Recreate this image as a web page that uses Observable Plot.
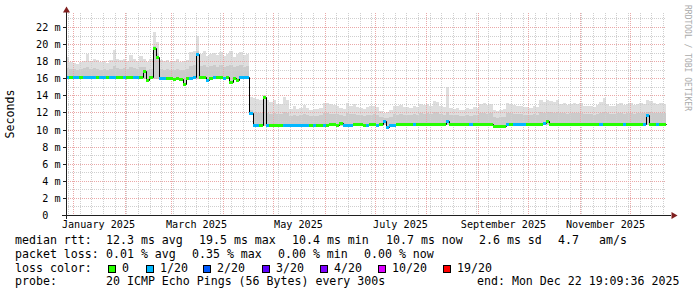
<!DOCTYPE html>
<html><head><meta charset="utf-8">
<script src="https://cdn.jsdelivr.net/npm/d3@7"></script>
<script src="https://cdn.jsdelivr.net/npm/@observablehq/plot@0.6"></script>
<style>
html,body{margin:0;padding:0;background:#fff;}
#wrap{position:relative;width:697px;height:297px;overflow:hidden;background:#fff;font-family:"DejaVu Sans Mono",monospace;color:#000;}
#chart{position:absolute;left:0;top:0;}
.t{position:absolute;white-space:pre;line-height:1;font-size:11.6px;}
.box{position:absolute;width:6px;height:6px;border:1px solid #000;}
#ylab{position:absolute;left:11px;top:114px;font-size:11.6px;transform:translate(-50%,-50%) rotate(-90deg);white-space:pre;line-height:1;}
#wm{position:absolute;left:687px;top:5px;font-size:8px;color:#aaa;white-space:pre;line-height:1;transform-origin:0 0;transform:rotate(90deg) translate(0,-50%);}
</style></head>
<body><div id="wrap"><div id="chart"></div></div>
<script>
// ---- data (2-day buckets, 360 days ending Mon Dec 22 19:09:36 2025) ----
const endTime = "2025-12-22T19:09:36Z";
const rangeDays = 360;
const bucketDays = 2;
const yTicks = [0,2,4,6,8,10,12,14,16,18,20,22];
const monthLabels = ["2025-01-01","2025-03-01","2025-05-01","2025-07-01","2025-09-01","2025-11-01"];
const lossSteps = [0,1,2,3,4,10,19];
const lossNames = ["0","1/20","2/20","3/20","4/20","10/20","19/20"];
const lossColors = ["#26ff00","#00b8ff","#0059ff","#5e00ff","#7e00ff","#dd00ff","#ff0000"];

// median rtt (ms)
const median = [
16.15,16.1,16.15,16.15,16.1,16.15,16.15,16.1,16.15,16.1,
16.15,16.15,16.1,16.15,16.2,16.1,16.1,16.15,16.1,16.1,
16.15,16.15,16.1,16.9,15.85,16.1,19.5,18.5,16.05,16.05,
16.0,16.0,15.95,16.0,15.95,15.35,16.0,16.05,16.1,18.9,
16.15,16.1,15.85,16.05,16.1,16.1,16.1,16.05,16.1,15.55,
16.05,15.85,16.1,16.1,16.15,11.95,10.5,10.5,10.5,13.85,
10.5,10.5,10.55,10.5,10.5,10.55,10.5,10.5,10.5,10.55,
10.5,10.5,10.55,10.55,10.5,10.55,10.55,10.5,10.55,10.6,
10.6,10.55,10.75,10.55,10.5,10.55,10.6,10.6,10.6,10.55,
10.55,10.6,10.6,10.55,10.6,10.95,10.35,10.5,10.55,10.6,
10.65,10.6,10.65,10.65,10.7,10.65,10.6,10.65,10.65,10.7,
10.65,10.65,10.6,10.65,11.05,10.65,10.65,10.7,10.65,10.65,
10.6,10.65,10.65,10.7,10.65,10.65,10.65,10.65,10.4,10.4,
10.4,10.4,10.65,10.7,10.65,10.65,10.7,10.65,10.65,10.7,
10.65,10.65,10.65,10.75,11.0,10.7,10.65,10.7,10.7,10.65,
10.7,10.7,10.65,10.7,10.7,10.65,10.7,10.7,10.7,10.65,
10.7,10.7,10.65,10.7,10.7,10.7,10.65,10.7,10.7,10.7,
10.65,10.7,10.7,10.7,11.7,10.7,10.65,10.7,10.7,10.7
];
// lost pings per 20
const loss = [
1,0,1,1,0,1,1,1,1,0,
1,1,0,1,1,0,0,1,0,0,
1,1,0,0,0,0,0,0,1,1,
0,0,0,0,0,0,0,1,1,1,
0,0,1,0,1,0,0,1,0,0,
0,0,1,1,1,1,1,1,0,0,
1,0,0,0,0,1,1,1,1,1,
1,1,1,0,1,0,0,1,0,0,
0,0,0,1,1,1,0,0,0,0,
1,0,0,1,0,1,1,1,1,0,
0,0,0,0,1,0,0,0,0,0,
0,0,0,0,1,0,0,0,0,0,
0,1,0,0,0,0,0,0,0,0,
0,0,1,0,1,1,1,1,0,0,
0,0,0,1,0,0,0,0,0,0,
0,0,0,0,0,0,0,0,0,0,
1,0,0,0,0,0,0,1,0,0,
0,0,0,1,1,0,0,1,0,0
];
// highest ping (top of smoke)
const smokeMax = [
18.5,17.9,17.8,17.7,17.9,18.0,18.9,18.0,18.3,18.1,
17.9,18.0,17.8,18.1,19.3,18.2,18.1,18.3,18.0,18.7,
18.2,18.0,18.6,18.3,17.9,18.2,21.4,20.2,18.1,18.0,
18.1,17.9,18.0,18.2,17.9,18.0,18.1,19.1,19.2,21.0,
18.9,19.2,18.6,18.8,19.0,18.7,19.1,18.6,18.8,19.2,
18.5,18.9,19.1,18.7,18.9,13.8,13.7,13.6,13.5,14.0,
13.5,13.2,13.4,13.0,13.0,13.8,13.4,12.4,12.7,12.4,
12.5,12.9,12.5,12.3,12.4,12.4,12.5,13.1,13.1,13.0,
12.9,12.8,12.5,12.4,13.1,12.8,13.0,12.6,12.5,12.4,
12.6,12.7,12.8,12.6,12.2,11.9,12.0,12.3,12.8,12.7,
12.9,12.6,12.6,12.5,12.7,12.6,13.0,12.9,13.0,12.8,
13.3,13.2,12.7,12.6,15.0,12.5,12.4,12.5,12.3,12.3,
12.5,12.4,12.6,12.5,13.0,13.1,12.9,13.0,12.3,12.2,
12.3,12.4,13.1,13.0,12.9,12.7,12.8,12.6,12.6,12.5,
12.7,12.6,13.4,13.2,13.5,13.3,13.2,13.4,13.0,13.1,
12.9,13.0,13.1,13.0,13.1,12.8,12.7,12.8,12.6,12.9,
13.2,13.7,13.0,12.7,12.7,13.0,13.1,12.9,13.0,13.1,
12.9,13.0,13.1,13.0,13.5,13.3,13.1,13.0,13.1,13.0
];
// upper edge of the dense part of the smoke
const smokeMid = [
17.2,17.1,17.1,17.0,17.1,17.2,17.3,17.1,17.2,17.1,
17.0,17.1,17.0,17.1,17.4,17.2,17.1,17.2,17.1,17.3,
17.2,17.1,17.3,17.3,17.0,17.1,19.8,19.0,17.1,17.0,
17.1,17.0,17.0,17.1,17.0,17.0,17.1,17.4,17.5,19.2,
17.4,17.5,17.3,17.4,17.5,17.3,17.5,17.3,17.4,17.5,
17.3,17.4,17.5,17.3,17.4,12.3,12.0,11.9,11.9,13.9,
11.9,11.8,11.9,11.8,11.8,12.0,11.9,11.6,11.7,11.6,
11.7,11.8,11.7,11.6,11.6,11.6,11.7,11.9,11.9,11.8,
11.8,11.8,11.7,11.6,11.9,11.8,11.8,11.7,11.7,11.6,
11.7,11.7,11.8,11.7,11.5,11.3,11.3,11.5,11.8,11.7,
11.8,11.7,11.7,11.7,11.8,11.7,11.9,11.8,11.9,11.8,
12.0,12.0,11.8,11.7,12.1,11.7,11.7,11.7,11.6,11.6,
11.7,11.6,11.7,11.7,11.9,11.9,11.8,11.9,11.5,11.4,
11.5,11.5,11.9,11.9,11.8,11.8,11.8,11.7,11.7,11.7,
11.8,11.7,12.0,11.9,12.0,12.0,11.9,12.0,11.9,11.9,
11.8,11.9,11.9,11.9,11.9,11.8,11.8,11.8,11.7,11.8,
11.9,12.1,11.9,11.8,11.8,11.9,11.9,11.8,11.9,11.9,
11.8,11.9,11.9,11.9,12.0,12.0,11.9,11.9,11.9,11.9
];
// lowest ping (bottom of smoke)
const smokeMin = [
15.95,15.95,15.95,15.95,15.95,15.95,15.95,15.95,15.95,15.95,
15.95,15.95,15.95,15.95,15.95,15.95,15.95,15.95,15.95,15.95,
15.95,15.95,15.95,15.9,15.7,15.95,15.95,15.95,15.9,15.9,
15.85,15.85,15.8,15.85,15.8,15.2,15.85,15.9,15.95,15.95,
15.95,15.95,15.7,15.9,15.95,15.95,15.95,15.9,15.95,15.4,
15.9,15.7,15.95,15.95,15.95,11.7,10.35,10.35,10.35,10.4,
10.35,10.35,10.4,10.35,10.35,10.4,10.35,10.35,10.35,10.4,
10.35,10.35,10.4,10.4,10.35,10.4,10.4,10.35,10.4,10.45,
10.45,10.4,10.45,10.4,10.35,10.4,10.45,10.45,10.45,10.4,
10.4,10.45,10.45,10.4,10.45,10.5,10.2,10.35,10.4,10.45,
10.5,10.45,10.5,10.5,10.55,10.5,10.45,10.5,10.5,10.55,
10.5,10.5,10.45,10.5,10.55,10.5,10.5,10.55,10.5,10.5,
10.45,10.5,10.5,10.55,10.5,10.5,10.5,10.5,10.25,10.25,
10.25,10.25,10.5,10.55,10.5,10.5,10.55,10.5,10.5,10.55,
10.5,10.5,10.5,10.55,10.55,10.55,10.5,10.55,10.55,10.5,
10.55,10.55,10.5,10.55,10.55,10.5,10.55,10.55,10.55,10.5,
10.55,10.55,10.5,10.55,10.55,10.55,10.5,10.55,10.55,10.55,
10.5,10.55,10.55,10.55,10.55,10.55,10.5,10.55,10.55,10.55
];

// legend text (text, left x)
const statLines = [
  [["median rtt:",16],["12.3 ms avg",107],["19.5 ms max",200],["10.4 ms min",293],["10.7 ms now",387],["2.6 ms sd",480],["4.7",559],["am/s",600]],
  [["packet loss:",16],["0.01 % avg",107],["0.35 % max",193],["0.00 % min",279],["0.00 % now",365]],
  [["loss color:",16]],
  [["probe:",16],["20 ICMP Echo Pings (56 Bytes) every 300s",107],["end: Mon Dec 22 19:09:36 2025",478]]
];
const lossBoxX = [108,146,203,262,320,378,443];
const yAxisTitle = "Seconds";
const watermark = "RRDTOOL / TOBI OETIKER";

// ---- build ----
const end = new Date(endTime);
const start = d3.utcDay.offset(end, -rangeDays);
const rows = median.map((m, i) => ({
  t: d3.utcDay.offset(start, i * bucketDays),
  t1: d3.utcDay.offset(start, (i + 1) * bucketDays),
  med: m, loss: loss[i], max: smokeMax[i], mid: smokeMid[i], min: smokeMin[i]
}));
const rowsExt = rows.concat([{...rows[rows.length - 1], t: end}]);
const weeks = d3.utcSunday.range(start, end);
const months = d3.utcMonth.range(start, end);
const labelDates = monthLabels.map(s => d3.utcDay.offset(new Date(s + "T00:00:00Z"), 15));
const fmtMonth = d3.utcFormat("%B %Y");
const yMax = 23.64;
const minorY = d3.range(1, 24).filter(v => v % 2 === 1);
const majorY = yTicks.filter(v => v > 0);

const gridMinor = "#cfcfcf";
const gridMajor = "#eaa8a8";

const chart = Plot.plot({
  width: 697, height: 237,
  marginLeft: 66, marginRight: 31, marginTop: 13, marginBottom: 22,
  style: {fontFamily: "DejaVu Sans Mono", fontSize: "10.15px", background: "#fff", color: "#000"},
  x: {type: "utc", domain: [start, end], round: true},
  y: {domain: [0, yMax], round: true},
  color: {type: "threshold", domain: [0.5, 1.5, 2.5, 3.5, 9.5, 18.5], range: lossColors},
  marks: [
    // smoke
    Plot.areaY(rowsExt, {x: "t", y1: "min", y2: "max", curve: "step-after", fill: "#dedede"}),
    Plot.areaY(rowsExt, {x: "t", y1: "min", y2: "mid", curve: "step-after", fill: "#cbcbcb"}),
    // grid
    Plot.ruleX(weeks.filter(w => !months.some(m => +m === +w)), {stroke: gridMinor, strokeDasharray: "1,1"}),
    Plot.ruleY(minorY, {stroke: gridMinor, strokeDasharray: "1,1"}),
    Plot.ruleX(months, {stroke: gridMajor, strokeDasharray: "1,1"}),
    Plot.ruleY(majorY, {stroke: gridMajor, strokeDasharray: "1,1"}),
    // median line and loss colour band
    Plot.line(rowsExt, {x: "t", y: "med", curve: "step-after", stroke: "#000", strokeWidth: 1}),
    Plot.ruleY(rows, {x1: "t", x2: "t1", y: "med", stroke: "loss", strokeWidth: 3}),
    // axes
    Plot.axisY(yTicks, {tickSize: 3, tickPadding: 3, tickFormat: d => d === 0 ? "0\u00a0\u00a0" : `${d} m`, label: null, stroke: "#1f1f1f"}),
    Plot.axisX(labelDates, {tickSize: 0, tickPadding: 5, tickFormat: fmtMonth, label: null}),
    Plot.ruleX([start], {stroke: "#1f1f1f", insetTop: -3, insetBottom: -4}),
    Plot.ruleY([0], {stroke: "#1f1f1f", insetLeft: -4, insetRight: -5}),
    Plot.dot([start], {x: d => d, y: () => yMax, symbol: "triangle", r: 2.6, fill: "#801f1f", stroke: "none", dy: -3}),
    Plot.dot([end], {x: d => d, y: () => 0, symbol: "triangle", r: 2.6, fill: "#801f1f", stroke: "none", rotate: 90, dx: 7})
  ]
});
document.getElementById("chart").appendChild(chart);

const wrap = document.getElementById("wrap");
const baselines = [245, 258.7, 272.7, 286];
statLines.forEach((line, li) => {
  line.forEach(([txt, x]) => {
    const s = document.createElement("div");
    s.className = "t"; s.textContent = txt;
    s.style.left = (x - 1) + "px"; s.style.top = (baselines[li] - 9.8) + "px";
    wrap.appendChild(s);
  });
});
lossBoxX.forEach((x, k) => {
  const b = document.createElement("div");
  b.className = "box"; b.style.background = lossColors[k];
  b.style.left = x + "px"; b.style.top = (baselines[2] - 8) + "px";
  wrap.appendChild(b);
  const s = document.createElement("div");
  s.className = "t"; s.textContent = lossNames[k];
  s.style.left = (x + 14) + "px"; s.style.top = (baselines[2] - 9.8) + "px";
  wrap.appendChild(s);
});
const yl = document.createElement("div"); yl.id = "ylab"; yl.textContent = yAxisTitle; wrap.appendChild(yl);
const wm = document.createElement("div"); wm.id = "wm"; wm.textContent = watermark; wrap.appendChild(wm);
</script>
</body></html>
